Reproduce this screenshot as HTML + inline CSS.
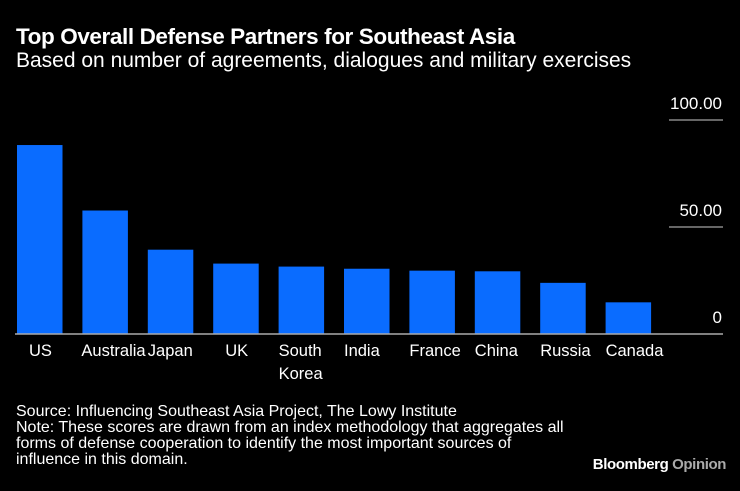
<!DOCTYPE html>
<html><head><meta charset="utf-8"><style>
body{margin:0;background:#000;width:740px;height:491px;overflow:hidden;font-family:"Liberation Sans",sans-serif;color:#fff}
#title{position:absolute;left:16px;top:24px;font-size:22.5px;font-weight:bold;letter-spacing:-0.4px}
#subtitle{position:absolute;left:16px;top:49px;font-size:21px}
#notes{position:absolute;left:16px;top:404px;font-size:16px;line-height:16px;width:700px;white-space:nowrap}
#brand{position:absolute;right:14px;top:456px;font-size:15px;font-weight:bold;letter-spacing:-0.4px}
svg{position:absolute;left:0;top:0}
</style></head><body>
<div id="title">Top Overall Defense Partners for Southeast Asia</div>
<div id="subtitle">Based on number of agreements, dialogues and military exercises</div>
<svg id="chart" width="740" height="491"></svg>
<div id="notes">Source: Influencing Southeast Asia Project, The Lowy Institute<br>Note: These scores are drawn from an index methodology that aggregates all<br>forms of defense cooperation to identify the most important sources of<br>influence in this domain.</div>
<div id="brand">Bloomberg <span style="color:#aaa;font-weight:bold">Opinion</span></div>
<script>
const categories=["US","Australia","Japan","UK","South|Korea","India","France","China","Russia","Canada"];
const values=[88.3,57.7,39.4,32.9,31.5,30.5,29.6,29.3,23.9,14.8];
const ticks=[0,50,100];
const tickLabels=["0","50.00","100.00"];
const NS="http://www.w3.org/2000/svg";
const svg=document.getElementById('chart');
const y0=334,yScale=2.14;
function y(v){return y0-v*yScale;}
function x(i){return 17+i*65.4;}
const bw=45.5;
function mk(t,a){const e=document.createElementNS(NS,t);for(const k in a)e.setAttribute(k,a[k]);svg.appendChild(e);return e;}
ticks.forEach((t,i)=>{
  if(t>0){const l=mk('line',{x1:669,x2:723,y1:y(t),y2:y(t),stroke:'#ccc','stroke-width':1});
  
  }
  const tx=mk('text',{x:722,y:y(t)-11,'text-anchor':'end',fill:'#fff','font-size':17,'font-family':'Liberation Sans, sans-serif'});
  tx.textContent=tickLabels[i];
  
  
});
values.forEach((v,i)=>{
  const r=mk('rect',{x:x(i),y:y(v),width:bw,height:v*yScale,fill:'#0a6cff'});
  
  
  const parts=categories[i].split('|');
  parts.forEach((p,j)=>{
    const t=mk('text',{x:x(i)+(i==0?12:(i==1?-1:(i==2?0:(i==3?12:0)))),y:356+j*23,fill:'#fff','font-size':16.5,'font-family':'Liberation Sans, sans-serif'});
    t.textContent=p;
    
    
  });
});
const base=mk('line',{x1:15,x2:723,y1:y0,y2:y0,stroke:'#aaa','stroke-width':1.5});


</script>
</body></html>
